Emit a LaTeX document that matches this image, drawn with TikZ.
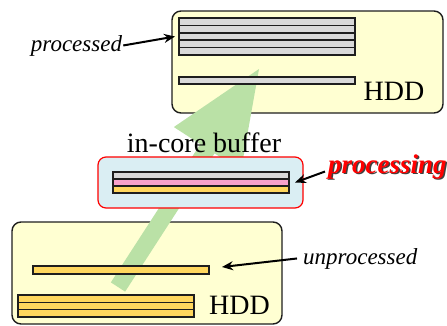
\documentclass[tikz,border=0pt]{standalone}
\usepackage{fontspec}
\setmainfont{Liberation Serif}
\usetikzlibrary{arrows.meta,calc,positioning}
\definecolor{hddFill}{HTML}{FFFFD2}
\definecolor{bufFill}{HTML}{DAEEF3}
\definecolor{flowGreen}{HTML}{BAE1A6}
\definecolor{stGray}{HTML}{D9D9D9}
\definecolor{stPink}{HTML}{F7A1CB}
\definecolor{stYellow}{HTML}{FFD75E}
\definecolor{edgeDark}{HTML}{1E1E1E}
\tikzset{
  % Storage container: rounded, pale yellow.
  hdd/box/.style={
    draw=edgeDark, fill=hddFill, line width=1.4pt, rounded corners=9pt,
    minimum width=270pt, minimum height=102pt, inner sep=0pt
  },
  % The in-core buffer: same shape, red rim.
  hdd/buffer/.style={
    hdd/box, draw=red, fill=bufFill, line width=1.2pt, rounded corners=8pt,
    minimum width=205pt, minimum height=51pt
  },
  % One block of data.
  hdd/stripe/.style={
    draw=edgeDark, line width=1.5pt, minimum width=176pt, minimum height=7.4pt,
    inner sep=0pt, outer sep=0pt
  },
  hdd/label/.style={font=\fontsize{28}{30}\selectfont, inner sep=0pt},
  hdd/note/.style={font=\fontsize{23}{25}\selectfont\itshape, inner sep=0pt},
  hdd/arrow/.style={-{Stealth[length=11pt,width=9pt]}, line width=2pt, draw=black},
}

\begin{document}
\begin{tikzpicture}[x=1pt, y=-1pt]
\useasboundingbox (0,0) rectangle (447,325);

\node[hdd/box, minimum width=271pt] (top) at (307.5,62) {};
\node[hdd/box] (bottom) at (147,273) {};

% data flow, behind everything else
\coordinate (flowtail) at (118,287);
\coordinate (flowtip) at (259,69);
\coordinate (flowbase) at ($(flowtip)!95pt!(flowtail)$);
\fill[flowGreen] ($(flowtail)!8.5pt!90:(flowtip)$) -- ($(flowbase)!8.5pt!90:(flowtip)$)
  -- ($(flowbase)!40pt!90:(flowtip)$) -- (flowtip) -- ($(flowbase)!40pt!-90:(flowtip)$)
  -- ($(flowbase)!8.5pt!-90:(flowtip)$) -- ($(flowtail)!8.5pt!-90:(flowtip)$) -- cycle;

\node[hdd/buffer] (buffer) at (200.5,182.5) {};

\foreach \i in {0,...,4}{\node[hdd/stripe, fill=stGray] (done\i) at (267,21.7+\i*7.4) {};}
\node[hdd/stripe, fill=stGray, minimum height=7pt] (doneL) at (267,80.5) {};
\foreach \i/\c in {0/stGray,1/stPink,2/stYellow}{
  \node[hdd/stripe, fill=\c, minimum height=7pt] (buf\i) at (201,175.5+\i*7) {};}
\node[hdd/stripe, fill=stYellow, minimum height=8pt] (todoL) at (121,270) {};
\foreach \i in {0,1,2}{
  \node[hdd/stripe, fill=stYellow, minimum height=7.3pt] (todo\i) at (106,298.7+\i*7.3) {};}

\node[hdd/label, anchor=base] (topname) at (394,100) {HDD};
\node[hdd/label, anchor=base] (botname) at (239.5,314) {HDD};
\node[hdd/label, anchor=base] (bufname) at (204,152) {in-core buffer};

\node[hdd/note, anchor=base] (donelbl) at (76.5,51) {processed};
\node[hdd/note, anchor=base west] (todolbl) at (303,264) {unprocessed};
\node[font=\fontsize{27}{29}\selectfont\bfseries\itshape, text=black!75, anchor=base west,
      inner sep=0pt] (procshade) at (329.5,174.5) {processing};
\node[font=\fontsize{27}{29}\selectfont\bfseries\itshape, text=red, anchor=base west,
      inner sep=0pt] (proclbl) at (328,173) {processing};

\draw[hdd/arrow] ([xshift=1pt]donelbl.east) -- ([xshift=-4pt]done2.west);
\draw[hdd/arrow] ([xshift=-6pt]todolbl.west) -- ([shift={(13,-3)}]todoL.east);
\draw[hdd/arrow] ([shift={(-3,5)}]proclbl.west) -- ([xshift=6pt]buf1.east);
\end{tikzpicture}
\end{document}
